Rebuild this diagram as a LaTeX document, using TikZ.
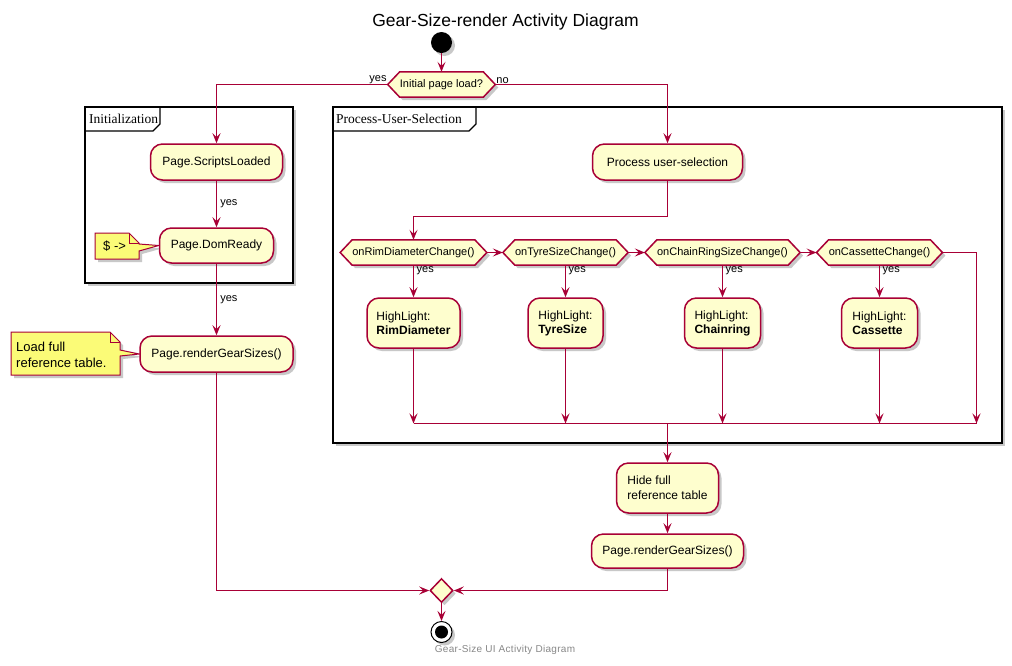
\documentclass[tikz,border=0pt]{standalone}
\usepackage{fontspec}
\setmainfont{Liberation Sans}
\newfontfamily\framefont{Liberation Serif}
\newfontfamily\footfont[LetterSpace=3]{Liberation Sans}
\usetikzlibrary{shapes.geometric,arrows.meta,shadows,calc}
\definecolor{pubord}{HTML}{A80036}
\definecolor{pufill}{HTML}{FEFECE}
\definecolor{punote}{HTML}{FBFB77}
\definecolor{pufoot}{HTML}{888888}
\pgfdeclarelayer{bg}
\pgfdeclarelayer{mid}
\pgfsetlayers{bg,mid,main}
\newcommand\puhex[1]{%
  \begin{pgfonlayer}{mid}
  \path[hexpath] ([xshift=-12pt]#1.west) -- (#1.north west) -- (#1.north east) -- ([xshift=12pt]#1.east) -- (#1.south east) -- (#1.south west) -- cycle;
  \end{pgfonlayer}}
\tikzset{
  shad/.style={drop shadow={shadow xshift=3pt,shadow yshift=-3pt,opacity=0.3,fill=black!70}},
  act/.style={draw=pubord,fill=pufill,line width=1.5pt,rounded corners=12pt,inner sep=0pt,
    font=\fontsize{12}{14}\selectfont,shad},
  hexnode/.style={inner sep=0pt,minimum height=25pt,font=\fontsize{11}{13}\selectfont},
  hexpath/.style={draw=pubord,fill=pufill,line width=1.5pt,shad},
  notepath/.style={draw=pubord,fill=punote,line width=1pt,shad},
  notetext/.style={inner sep=0pt,font=\fontsize{13}{16}\selectfont,align=left},
  frame/.style={draw=black,line width=1.8pt,fill=white,shad},
  tab/.style={draw=black,line width=1.3pt},
  tabtext/.style={inner sep=0pt,anchor=west,font=\framefont\fontsize{13.5}{15}\selectfont},
  lbl/.style={inner sep=1pt,font=\fontsize{11}{13}\selectfont},
  conn/.style={draw=pubord,line width=1.5pt},
  arr/.style={conn,-{Stealth[length=10pt,width=8pt,inset=4pt]}},
}
\begin{document}
\begin{tikzpicture}[x=1pt,y=-1pt]
\useasboundingbox (0,0) rectangle (1012,665);
\begin{pgfonlayer}{bg}
  \fill[white] (0,0) rectangle (1012,665);
  \draw[frame] (85,107) rectangle (293,283);
  \draw[tab] (85,131) -- (153,131) -- (160,124) -- (160,107);
  \draw[frame] (333,107) rectangle (1002,443);
  \draw[tab] (333,131) -- (469,131) -- (476,124) -- (476,107);
\end{pgfonlayer}
\node[tabtext] (initlbl) at (89,119) {Initialization};
\node[tabtext] (puslbl) at (336,119) {Process-User-Selection};

% title and footer
\node[inner sep=0pt,font=\fontsize{17.5}{20}\selectfont] (title) at (505.5,22) {Gear-Size-render Activity Diagram};
\node[inner sep=0pt,font=\footfont\fontsize{10}{12}\selectfont,text=pufoot] (foot) at (505,650) {Gear-Size UI Activity Diagram};

% start
\node[circle,fill=black,minimum size=21pt,inner sep=0pt,shad] (st) at (441.5,42.5) {};

% first decision
\node[hexnode,minimum width=80pt] (d0) at (441.5,84.5) {Initial page load?};
\puhex{d0}
\coordinate (d0w) at ([xshift=-12pt]d0.west);
\coordinate (d0e) at ([xshift=12pt]d0.east);

% initialization
\node[act,minimum width=132pt,minimum height=36pt] (sl) at (216.5,162) {Page.ScriptsLoaded};
\node[act,minimum width=114pt,minimum height=35pt] (dr) at (216.5,245.5) {Page.DomReady};
\node[act,minimum width=153pt,minimum height=36pt] (rg1) at (216.5,354) {Page.renderGearSizes()};

% notes
\begin{pgfonlayer}{mid}
  \path[notepath] (95,233) -- (129,233) -- (139,243) -- (139,244) -- (dr.west) -- (139,251) -- (139,259) -- (95,259) -- cycle;
  \draw[pubord,line width=1pt] (129,233) -- (129,243) -- (139,243);
  \path[notepath] (11,332) -- (110,332) -- (120,342) -- (120,350) -- (rg1.west) -- (120,356) -- (120,375) -- (11,375) -- cycle;
  \draw[pubord,line width=1pt] (110,332) -- (110,342) -- (120,342);
\end{pgfonlayer}
\node[notetext,anchor=west] (n1) at (103,246) {\$ ->};
\node[notetext,anchor=west] (n2) at (16,355) {Load full\\reference table.};

% process user selection
\node[act,minimum width=150pt,minimum height=36pt] (pus) at (667.5,162) {Process user-selection};

\node[hexnode,minimum width=116pt] (h1) at (413.5,252.5) {onRimDiameterChange()};
\node[hexnode,minimum width=100pt] (h2) at (565.5,252.5) {onTyreSizeChange()};
\node[hexnode,minimum width=125pt] (h3) at (722.5,252.5) {onChainRingSizeChange()};
\node[hexnode,minimum width=100pt] (h4) at (879.5,252.5) {onCassetteChange()};
\puhex{h1}\puhex{h2}\puhex{h3}\puhex{h4}
\foreach \h in {h1,h2,h3,h4}{
  \coordinate (\h w) at ([xshift=-12pt]\h.west);
  \coordinate (\h e) at ([xshift=12pt]\h.east);
}

\node[act,align=left,minimum width=93pt,minimum height=50pt] (hl1) at (413.5,323) {HighLight:\\\textbf{RimDiameter}};
\node[act,align=left,minimum width=75pt,minimum height=50pt] (hl2) at (565.5,323) {HighLight:\\\textbf{TyreSize}};
\node[act,align=left,minimum width=76pt,minimum height=50pt] (hl3) at (722.5,323) {HighLight:\\\textbf{Chainring}};
\node[act,align=left,minimum width=76pt,minimum height=50pt] (hl4) at (879.5,323) {HighLight:\\\textbf{Cassette}};

\coordinate (jl) at (413.5,423.5);
\coordinate (jr) at (976.5,423.5);

\node[act,align=left,minimum width=102pt,minimum height=50pt,font=\fontsize{12}{15}\selectfont] (hide) at (667.5,488) {Hide full\\reference table};
\node[act,minimum width=152pt,minimum height=34pt] (rg2) at (667.5,551) {Page.renderGearSizes()};

% merge and stop
\node[diamond,draw=pubord,fill=pufill,line width=1.5pt,minimum width=23pt,minimum height=24pt,inner sep=0pt,shad] (mg) at (441.5,590.5) {};
\node[circle,draw=black,fill=white,line width=1pt,minimum size=21pt,inner sep=0pt,shad] (sp) at (441.5,632) {};
\fill[black] (sp.center) circle (6.5pt);

% connectors
\draw[arr] (st.south) -- (d0.north);
\draw[arr] (d0w) -| (sl.north);
\draw[arr] (d0e) -| (pus.north);
\node[lbl,anchor=south east] (ly0) at (d0w) {yes};
\node[lbl,anchor=south west] (ln0) at (d0e) {no};

\draw[arr] (sl.south) -- (dr.north) node[lbl,midway,anchor=west,xshift=2pt] (ly1) {yes};
\draw[arr] (dr.south) -- (rg1.north) node[lbl,midway,anchor=west,xshift=2pt] (ly2) {yes};
\draw[arr] (rg1.south) |- (mg.west);

\draw[arr] (pus.south) -- ++(0,35.5) -| (h1.north);
\draw[arr] (h1e) -- (h2w);
\draw[arr] (h2e) -- (h3w);
\draw[arr] (h3e) -- (h4w);
\draw[arr] (h4e) -| (jr);

\foreach \i in {1,2,3,4}{
  \draw[arr] (h\i.south) -- (hl\i.north);
  \node[lbl,anchor=north west,xshift=2pt] (ly\i h) at (h\i.south) {yes};
  \draw[arr] (hl\i.south) -- (hl\i.south |- jl);
}
\draw[conn] (jl) -- (jr);
\draw[arr] (pus.south |- jl) -- (hide.north);
\draw[arr] (hide.south) -- (rg2.north);
\draw[arr] (rg2.south) |- (mg.east);
\draw[arr] (mg.south) -- (sp.north);
\end{tikzpicture}
\end{document}
